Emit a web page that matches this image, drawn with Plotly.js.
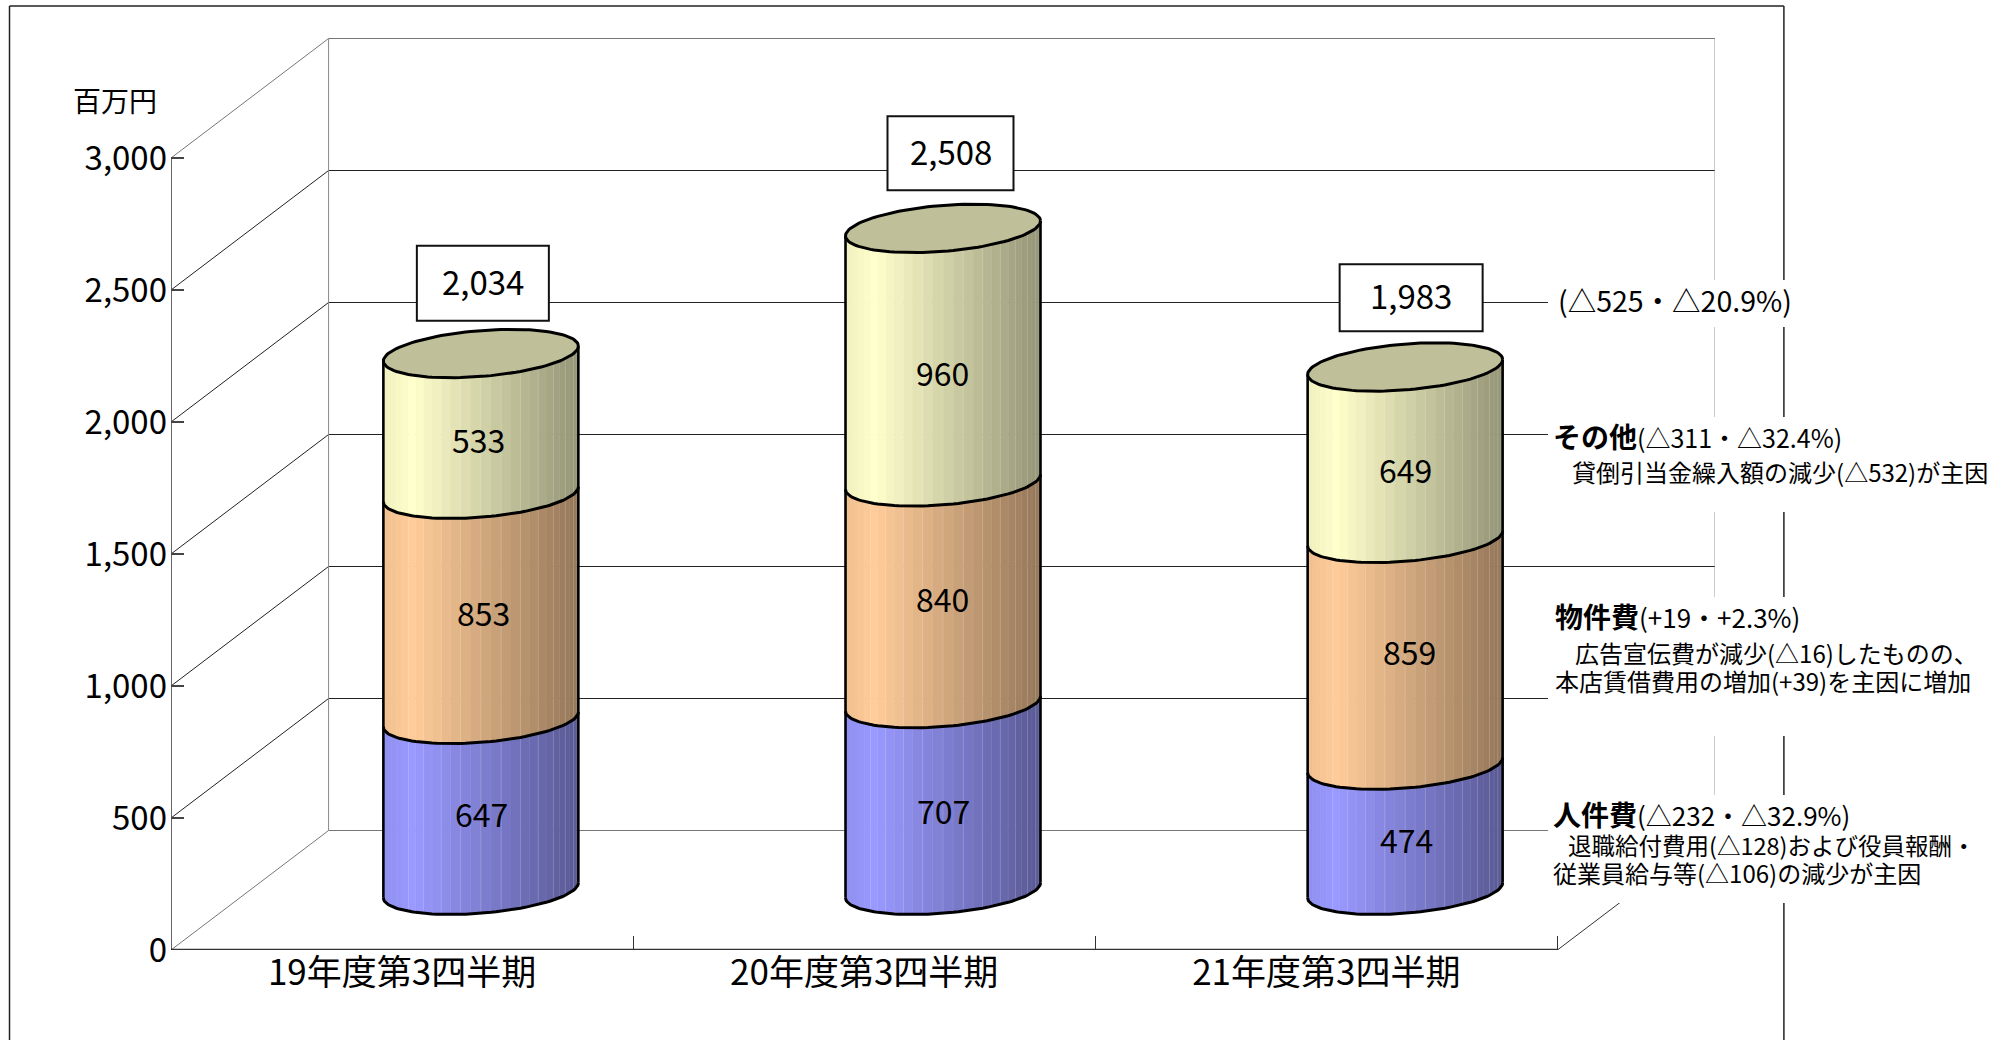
<!DOCTYPE html>
<html><head><meta charset="utf-8">
<script src="https://cdn.plot.ly/plotly-3.0.1.min.js"></script>
<style>html,body{margin:0;padding:0;background:#fff;overflow:hidden}</style></head>
<body><div id="chart" style="width:2009px;height:1040px"></div>
<script>
// ---- data ----
const categories = ['19年度第3四半期','20年度第3四半期','21年度第3四半期'];
const personnel = [647,707,474];
const propertyCost = [853,840,859];
const other = [533,960,649];
const totals = [2034,2508,1983];
const yTicks = [0,500,1000,1500,2000,2500,3000];
const yTickText = ['0','500','1,000','1,500','2,000','2,500','3,000'];
const unitLabel = '百万円';
const span=(px,t)=>'<span style="font-size:'+px+'px">'+t+'</span>';
const head=(b,rest,size)=>span(28,'<b>'+b+'</b>')+span(size,rest);
const noteBlocks = [
  span(28.5,'(△525・△20.9%)'),
  [head('その他','(△311・△32.4%)',25), span(19,'　')+span(24,'貸倒引当金繰入額の減少(△532)が主因')].join('<br>'),
  head('物件費','(+19・+2.3%)',26),
  [span(20,'　')+span(24,'広告宣伝費が減少(△16)したものの、'), span(24,'本店賃借費用の増加(+39)を主因に増加')].join('<br>'),
  [head('人件費','(△232・△32.9%)',26), span(15,'　')+span(23.5,'退職給付費用(△128)および役員報酬・'), span(24,'従業員給与等(△106)の減少が主因')].join('<br>')
];
// ---- layout geometry (pixels of the page) ----
const W=2009,H=1040,PL=171,PR=1557.5,PT=158,PB=950;
const FONT="'Noto Sans CJK JP','Liberation Sans',sans-serif";
const DEPTH_PX_X=157.6,DEPTH_PX_Y=119.5;
const xUnit=(PR-PL)/3, yUnit=(PB-PT)/3000;
const depthX=DEPTH_PX_X/xUnit, depthY=DEPTH_PX_Y/yUnit;
const cylA=97.5/xUnit, cylB=23/yUnit, cylK=7.5/yUnit;
const N=30;
const PLOT_R=PR+DEPTH_PX_X, PLOT_T=38;
const px=x=>(x-PL)/(PLOT_R-PL), py=y=>(PB-y)/(PB-PLOT_T);
const traces=[];
const line=(xs,ys,color,width)=>traces.push({x:xs,y:ys,mode:'lines',type:'scatter',cliponaxis:false,hoverinfo:'skip',showlegend:false,line:{color,width}});
// walls and grid
const x0=-0.5,x1=2.5;
yTicks.forEach(v=>{
  const edge=(v===0||v===3000);
  line([x0,x0+depthX,x1+depthX],[v,v+depthY,v+depthY],edge?'#777':'#222',1);
});
line([x0+depthX,x0+depthX],[depthY,3000+depthY],'#888',1);
line([x1+depthX,x1+depthX],[depthY,3000+depthY],'#999',1);
line([x1,x1+depthX],[0,depthY],'#333',1);
line([x0,x1],[0,0],'#333',2.4);
line([x0,x0],[0,3000],'#111',1.3);
// cylinders
const cx=i=>i+depthX/2;
const arcY=(lvl,t)=>lvl+depthY/2+cylB*Math.sin(t)+cylK*Math.cos(t);
const arcX=(i,t)=>cx(i)+cylA*Math.cos(t);
const shade=f=>f<0.15?0.94+0.06*f/0.15:1-0.42*(f-0.15)/0.85;
const seriesList=[{v:personnel,c:[153,153,255]},{v:propertyCost,c:[255,204,153]},{v:other,c:[255,255,204]}];
const bases=categories.map(()=>0);
const levels=seriesList.map(s=>{
  const r=s.v.map((val,i)=>[bases[i],bases[i]+val]);
  s.v.forEach((val,i)=>bases[i]+=val);
  return r;
});
seriesList.forEach((s,si)=>{
  for(let k=0;k<N;k++){
    const t0=Math.PI+Math.PI*k/N,t1=Math.PI+Math.PI*(k+1)/N;
    const g=(Math.cos((t0+t1)/2)+1)/2;
    const m=shade(g);
    const col='rgb('+s.c.map(c=>Math.round(c*m)).join(',')+')';
    const xs=[],ys=[];
    categories.forEach((_,i)=>{
      const [a,b]=levels[si][i];
      xs.push(arcX(i,t0),arcX(i,t1),arcX(i,t1),arcX(i,t0),arcX(i,t0),null);
      ys.push(arcY(a,t0),arcY(a,t1),arcY(b,t1),arcY(b,t0),arcY(a,t0),null);
    });
    traces.push({x:xs,y:ys,mode:'lines',type:'scatter',fill:'toself',fillcolor:col,cliponaxis:false,hoverinfo:'skip',showlegend:false,
      line:{color:(k%2 && g>0.1)?'rgba(255,255,255,0.18)':col,width:0.8}});
  }
});
const SAMPLES=60;
categories.forEach((_,i)=>{
  const top=bases[i];
  const ex=[],ey=[];
  for(let j=0;j<=2*SAMPLES;j++){const t=Math.PI*j/SAMPLES;ex.push(arcX(i,t));ey.push(arcY(top,t));}
  traces.push({x:ex,y:ey,mode:'lines',type:'scatter',fill:'toself',fillcolor:'#BFBF99',cliponaxis:false,hoverinfo:'skip',showlegend:false,line:{color:'#000',width:3}});
  [0].concat(levels.map(l=>l[i][1]).slice(0,-1)).forEach(lvl=>{
    const ax=[],ay=[];
    for(let j=0;j<=SAMPLES;j++){const t=Math.PI+Math.PI*j/SAMPLES;ax.push(arcX(i,t));ay.push(arcY(lvl,t));}
    line(ax,ay,'#000',3);
  });
  line([arcX(i,Math.PI),arcX(i,Math.PI)],[arcY(0,Math.PI),arcY(top,Math.PI)],'#000',2.6);
  line([arcX(i,0),arcX(i,0)],[arcY(0,0),arcY(top,0)],'#000',2.6);
});
// annotations
const annotations=[];
const segDx=[[1,0,1],[3,-1,4],[-2,-1,0]];
const segDy=[[-8.5,-13.5,-11],[-5.5,-5.5,0.5],[-15.5,-17,-16.5]];
seriesList.forEach((s,si)=>s.v.forEach((val,i)=>{
  const [a,b]=levels[si][i];
  annotations.push({x:cx(i),y:(a+b)/2+depthY/2,xref:'x',yref:'y',text:String(val),showarrow:false,xanchor:'center',yanchor:'middle',
    xshift:segDx[si][i],yshift:segDy[si][i],font:{family:FONT,size:32,color:'#000'}});
}));
const shapes=[];
const boxDx=[2,7.5,6],boxDy=[70,75,69],boxW=[132,126,143],boxH=[75,74,67];
totals.forEach((val,i)=>{
  shapes.push({type:'rect',xref:'x',yref:'y',xsizemode:'pixel',ysizemode:'pixel',xanchor:cx(i),yanchor:val+depthY/2,
    x0:boxDx[i]-boxW[i]/2,x1:boxDx[i]+boxW[i]/2,y0:boxDy[i]-boxH[i]/2,y1:boxDy[i]+boxH[i]/2,layer:'above',fillcolor:'#fff',line:{color:'#111',width:2}});
  annotations.push({x:cx(i),y:val+depthY/2,xref:'x',yref:'y',text:val.toLocaleString('en-US'),showarrow:false,
    xanchor:'center',yanchor:'middle',xshift:boxDx[i],yshift:boxDy[i]+2.5,font:{family:FONT,size:33,color:'#000'}});
});
annotations.push({xref:'paper',yref:'paper',x:px(115),y:py(100),text:unitLabel,showarrow:false,xanchor:'center',yanchor:'middle',font:{family:FONT,size:28,color:'#000'}});
const noteX=[1557,1552,1554,1554,1552];
const noteY=[299,452,616,666,841.5];
const noteLine=[29,26,28,21.5,22];
noteBlocks.forEach((txt,i)=>annotations.push({xref:'paper',yref:'paper',x:px(noteX[i]),y:py(noteY[i]),text:txt,showarrow:false,
  xanchor:'left',yanchor:'middle',align:'left',borderpad:0,font:{family:FONT,size:noteLine[i],color:'#000'}}));
// frame and masks behind side notes
const pl=(xa,ya,xb,yb,color,width)=>shapes.push({type:'line',xref:'paper',yref:'paper',x0:px(xa),y0:py(ya),x1:px(xb),y1:py(yb),layer:'below',line:{color,width}});
pl(9.5,6,1784,6,'#222',1.5);pl(9.5,6,9.5,1040,'#222',1.5);pl(1784,6,1784,1040,'#222',1.5);
[[280,327],[417,512],[597,736],[795,903]].forEach(([a,b])=>shapes.push({type:'rect',xref:'paper',yref:'paper',x0:px(1548),x1:px(2005),y0:py(a),y1:py(b),layer:'above',fillcolor:'#fff',line:{width:0}}));
const layout={
  width:W,height:H,autosize:false,showlegend:false,paper_bgcolor:'#fff',plot_bgcolor:'rgba(0,0,0,0)',
  margin:{l:PL,r:W-PLOT_R,t:PLOT_T,b:H-PB,pad:0},
  xaxis:{range:[x0,x1+depthX],tickvals:[0,1,2],ticktext:categories,ticks:'',showgrid:false,zeroline:false,showline:false,
    tickfont:{family:FONT,size:35,color:'#000'},ticklabelstandoff:-1,
    minor:{tickvals:[0.5,1.5,2.5],ticks:'inside',ticklen:14,tickcolor:'#333',tickwidth:1.2,showgrid:false}},
  yaxis:{range:[0,(PB-PLOT_T)/yUnit],tickvals:yTicks,ticktext:yTickText,ticks:'inside',ticklen:13,tickcolor:'#444',tickwidth:1.2,showgrid:false,zeroline:false,
    showline:false,tickfont:{family:FONT,size:33,color:'#000'},ticklabelstandoff:3},
  annotations,shapes
};
Plotly.newPlot('chart',traces,layout,{displayModeBar:false,staticPlot:true});
</script></body></html>
